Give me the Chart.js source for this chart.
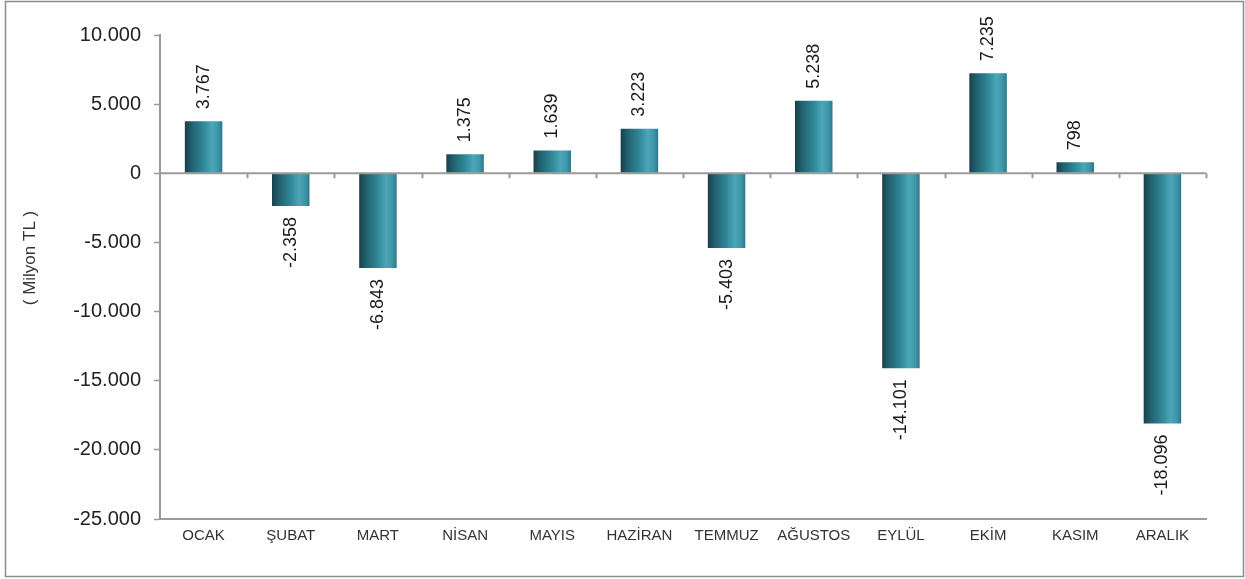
<!DOCTYPE html>
<html>
<head>
<meta charset="utf-8">
<script src="https://cdn.jsdelivr.net/npm/chart.js@4/dist/chart.umd.min.js"></script>
<style>
html,body{margin:0;padding:0;background:#fff;}
#wrap{position:absolute;left:0;top:0;width:1245px;height:579px;}
</style>
</head>
<body>
<div id="wrap"><canvas id="c" width="1245" height="579"></canvas></div>
<script>
const categories = ["OCAK","ŞUBAT","MART","NİSAN","MAYIS","HAZİRAN","TEMMUZ","AĞUSTOS","EYLÜL","EKİM","KASIM","ARALIK"];
const values = [3767, -2358, -6843, 1375, 1639, 3223, -5403, 5238, -14101, 7235, 798, -18096];
const yTitle = "( Milyon TL )";
const yMin = -25000, yMax = 10000, yStep = 5000;

function fmt(v){
  const neg = v < 0;
  let s = Math.abs(Math.round(v)).toString();
  s = s.replace(/\B(?=(\d{3})+(?!\d))/g, ".");
  return (neg ? "-" : "") + s;
}

const BAR_PCT = 0.43;
const FONT = "'Liberation Sans', Arial, sans-serif";

function barGradient(ctx){
  const chart = ctx.chart;
  const xs = chart.scales.x;
  if (!xs || !chart.chartArea) return '#2f8799';
  const cw = xs.width / categories.length;
  const cx = xs.getPixelForValue(ctx.dataIndex);
  const w = cw * BAR_PCT;
  const g = chart.ctx.createLinearGradient(cx - w/2, 0, cx + w/2, 0);
  g.addColorStop(0, '#193f4b');
  g.addColorStop(0.18, '#22606f');
  g.addColorStop(0.5, '#308898');
  g.addColorStop(0.72, '#4ba6b8');
  g.addColorStop(0.88, '#3f97a9');
  g.addColorStop(1, '#2b7889');
  return g;
}

const decor = {
  id: 'decor',
  beforeDraw(chart){
    const c = chart.ctx;
    c.save();
    c.fillStyle = '#fff';
    c.fillRect(0,0,chart.width,chart.height);
    c.strokeStyle = '#8c8c8c';
    c.lineWidth = 1.5;
    c.strokeRect(5.5, 1.5, 1238, 575);
    // y axis title
    c.fillStyle = '#333';
    c.font = "17px " + FONT;
    c.textAlign = 'center';
    c.textBaseline = 'middle';
    c.translate(30, 258);
    c.rotate(-Math.PI/2);
    c.fillText(yTitle, 0, 0);
    c.restore();
  },
  afterDatasetsDraw(chart){
    const c = chart.ctx;
    const xs = chart.scales.x, ys = chart.scales.y;
    const y0 = ys.getPixelForValue(0);
    c.save();
    c.strokeStyle = '#9a9a9a';
    c.lineWidth = 2;
    c.beginPath();
    c.moveTo(xs.left, y0);
    c.lineTo(xs.right, y0);
    const cw = xs.width / categories.length;
    for (let i = 1; i <= categories.length; i++){
      const x = Math.round(xs.left + i * cw) + 0.5;
      c.moveTo(x, y0);
      c.lineTo(x, y0 + 5);
    }
    c.stroke();
    const meta = chart.getDatasetMeta(0);
    c.fillStyle = '#1a1a1a';
    c.font = "18px " + FONT;
    c.textBaseline = 'middle';
    meta.data.forEach((bar, i) => {
      const v = values[i];
      const txt = fmt(v);
      c.save();
      if (v >= 0){
        c.translate(bar.x, bar.y - 12);
        c.rotate(-Math.PI/2);
        c.textAlign = 'left';
      } else {
        c.translate(bar.x, bar.y + 11);
        c.rotate(-Math.PI/2);
        c.textAlign = 'right';
      }
      c.fillText(txt, 0, 0);
      c.restore();
    });
    c.restore();
  }
};

new Chart(document.getElementById('c'), {
  type: 'bar',
  data: {
    labels: categories,
    datasets: [{
      data: values,
      backgroundColor: barGradient,
      borderWidth: 0,
      barPercentage: BAR_PCT,
      categoryPercentage: 1.0
    }]
  },
  options: {
    responsive: false,
    animation: false,
    devicePixelRatio: 1,
    layout: { padding: { top: 35, right: 39, bottom: 0, left: 0 } },
    plugins: { legend: { display: false }, tooltip: { enabled: false } },
    scales: {
      x: {
        grid: { display: false, drawTicks: false },
        border: { display: true, color: '#9a9a9a', width: 2 },
        ticks: { color: '#333', font: { family: FONT, size: 15 }, padding: 8, maxRotation: 0, autoSkip: false },
        afterFit(s){ s.height = 60; }
      },
      y: {
        min: yMin, max: yMax,
        ticks: {
          stepSize: yStep,
          color: '#222',
          font: { family: FONT, size: 20 },
          padding: 13,
          callback: v => fmt(v)
        },
        grid: {
          drawOnChartArea: false,
          drawTicks: true,
          tickLength: 6,
          tickColor: '#9a9a9a',
          tickWidth: 1.5
        },
        border: { display: true, color: '#9a9a9a', width: 2 },
        afterFit(s){ s.width = 160; }
      }
    }
  },
  plugins: [decor]
});
</script>
</body>
</html>
